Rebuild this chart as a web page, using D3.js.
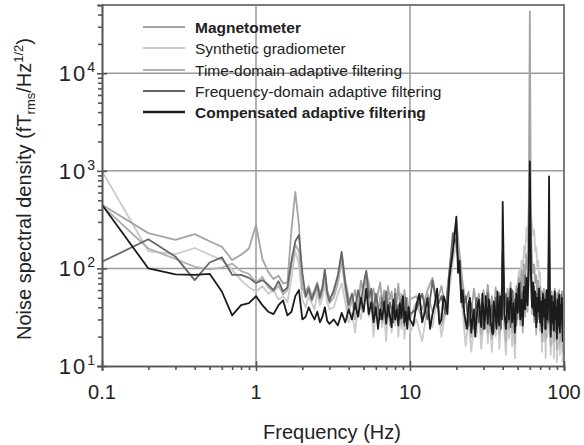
<!DOCTYPE html>
<html>
<head>
<meta charset="utf-8">
<script src="https://cdn.jsdelivr.net/npm/d3@7"></script>
<style>
  body { margin: 0; background: #fff; }
  svg { display: block; font-family: "Liberation Sans", Arial, Helvetica, sans-serif; }
</style>
</head>
<body>
<svg id="chart" width="584" height="445"></svg>
<script>
// frequency grid (Hz): fine steps at low freq, coarser above
const FREQ = [
  0.1, 0.2, 0.3, 0.4, 0.5, 0.6, 0.7, 0.8, 0.9, 1.0, 1.1, 1.2, 1.3, 1.4, 1.5, 1.6, 1.7, 1.8, 1.9, 2.0,
  2.1, 2.2, 2.3, 2.4, 2.5, 2.6, 2.7, 2.8, 2.9, 3.0,
  3.2, 3.4, 3.6, 3.8, 4.0, 4.2, 4.4, 4.6, 4.8, 5.0, 5.2, 5.4, 5.6, 5.8, 6.0, 6.2, 6.4, 6.6, 6.8, 7.0,
  7.2, 7.4, 7.6, 7.8, 8.0, 8.2, 8.4, 8.6, 8.8, 9.0, 9.2, 9.4, 9.6, 9.8, 10.0,
  11, 12, 13, 14, 15, 16, 17, 18, 19, 20, 21, 22, 23, 24, 25, 26, 27, 28, 29, 30,
  31, 32, 33, 34, 35, 36, 37, 38, 39, 40, 41, 42, 43, 44, 45, 46, 47, 48, 49, 50,
  51, 52, 53, 54, 55, 56, 57, 58, 59, 60, 61, 62, 63, 64, 65, 66, 67, 68, 69, 70,
  71, 72, 73, 74, 75, 76, 77, 78, 79, 80, 81, 82, 83, 84, 85, 86, 87, 88, 89, 90,
  91, 92, 93, 94, 95, 96, 97, 98, 99, 100
];
// extra half-Hz bins used for the compensated trace between 10 and 40 Hz
const FREQ_FINE = [
  10.5, 11.5, 12.5, 13.5, 14.5, 15.5, 16.5, 17.5, 18.5, 19.5, 20.5, 21.5, 22.5, 23.5, 24.5,
  25.5, 26.5, 27.5, 28.5, 29.5, 30.5, 31.5, 32.5, 33.5, 34.5, 35.5, 36.5, 37.5, 38.5, 39.5
];

// noise spectral density, fT_rms/Hz^1/2, one value per FREQ entry
const magnetometer = [
  450, 230, 196, 225, 190, 167, 122, 138, 160, 280, 125, 92, 78, 84, 70, 72, 250, 610, 280, 62,
  58, 66, 52, 60, 72, 55, 64, 96, 60, 50,
  55, 80, 140, 75, 50, 45, 60, 40, 75, 55, 90, 70, 48, 62, 40, 56, 72, 44, 60, 38,
  66, 48, 58, 36, 62, 45, 70, 40, 55, 34, 60, 42, 50, 30, 48,
  52, 38, 60, 80, 45, 66, 40, 95, 200, 300, 140, 70, 45, 58, 36, 62, 42, 55, 33, 60,
  44, 68, 38, 52, 30, 64, 40, 56, 34, 150, 48, 36, 62, 40, 72, 35, 58, 30, 66, 45,
  80, 50, 95, 60, 110, 75, 140, 100, 300, 43000, 260, 120, 90, 110, 70, 85, 55, 75, 48, 65,
  42, 58, 36, 62, 40, 55, 30, 60, 45, 200, 50, 34, 58, 38, 52, 28, 62, 40, 48, 30,
  56, 36, 60, 32, 50, 38, 58, 26, 44, 34
];
const synthGradiometer = [
  1000, 150, 140, 162, 138, 122, 97, 76, 64, 58, 66, 55, 60, 48, 52, 45, 80, 150, 110, 48,
  40, 52, 44, 38, 56, 42, 50, 70, 45, 38,
  40, 55, 70, 45, 28, 35, 22, 40, 30, 48, 60, 32, 42, 20, 38, 28, 45, 25, 35, 18,
  40, 30, 22, 36, 26, 44, 20, 32, 24, 38, 19, 30, 26, 34, 22,
  30, 18, 40, 25, 48, 20, 35, 60, 120, 180, 90, 35, 16, 30, 14, 28, 20, 36, 15, 26,
  40, 17, 30, 14, 34, 20, 42, 15, 28, 60, 22, 13, 36, 19, 45, 16, 32, 12, 40, 70,
  95, 60, 120, 85, 170, 130, 260, 190, 420, 610, 380, 280, 220, 250, 150, 165, 105, 120, 80, 90,
  30, 14, 38, 18, 33, 12, 42, 20, 30, 55, 24, 13, 36, 17, 30, 12, 40, 18, 26, 11,
  34, 15, 38, 13, 28, 19, 35, 11, 24, 16
];
const timeDomain = [
  440, 160, 125, 104, 98, 102, 112, 94, 88, 72, 82, 64, 58, 66, 54, 60, 110, 175, 150, 64,
  50, 58, 46, 54, 62, 48, 58, 84, 54, 44,
  50, 70, 120, 60, 35, 48, 30, 52, 38, 58, 80, 42, 55, 30, 46, 34, 52, 28, 44, 32,
  50, 26, 40, 34, 47, 29, 38, 45, 27, 40, 33, 48, 28, 37, 31,
  45, 30, 55, 36, 50, 26, 40, 70, 160, 260, 110, 48, 24, 40, 20, 34, 26, 44, 21, 32,
  46, 22, 36, 19, 40, 25, 50, 21, 33, 90, 28, 18, 44, 24, 54, 22, 38, 17, 48, 30,
  60, 26, 44, 22, 58, 32, 70, 36, 85, 400, 80, 34, 62, 28, 50, 21, 44, 30, 54, 23,
  40, 18, 48, 26, 42, 19, 52, 25, 38, 120, 32, 16, 46, 23, 40, 18, 50, 25, 35, 15,
  42, 21, 47, 17, 36, 24, 44, 14, 31, 22
];
const freqDomain = [
  117, 199, 132, 76, 115, 130, 86, 86, 80, 71, 76, 68, 60, 74, 58, 64, 120, 190, 220, 90,
  52, 62, 48, 58, 68, 50, 64, 97, 56, 46,
  60, 85, 148, 70, 42, 55, 38, 60, 45, 70, 95, 50, 62, 35, 55, 40, 30, 50, 36, 58,
  32, 45, 38, 28, 55, 34, 42, 30, 48, 36, 26, 50, 32, 40, 34,
  38, 55, 30, 75, 40, 52, 34, 90, 230, 180, 95, 40, 52, 26, 44, 24, 50, 28, 42, 24,
  38, 56, 26, 42, 22, 50, 28, 45, 24, 150, 40, 55, 28, 46, 25, 60, 30, 48, 26, 62,
  36, 72, 34, 58, 40, 85, 45, 70, 110, 500, 120, 60, 38, 66, 30, 55, 28, 62, 32, 50,
  26, 45, 30, 52, 24, 48, 34, 56, 28, 300, 30, 48, 24, 52, 27, 44, 32, 56, 22, 46,
  28, 50, 24, 42, 30, 54, 26, 40, 22, 38
];
const compensated = [
  450, 100, 87, 86, 88, 58, 33, 42, 44, 52, 42, 36, 34, 42, 47, 33, 36, 52, 60, 30,
  32, 40, 34, 30, 36, 28, 32, 40, 29, 27,
  30, 26, 35, 28, 38, 30, 44, 32, 50, 36, 62, 34, 45, 28, 40, 24, 38, 30, 46, 27,
  42, 33, 25, 48, 30, 38, 26, 44, 31, 52, 28, 36, 24, 40, 30,
  42, 28, 50, 34, 62, 30, 45, 80, 150, 340, 120, 60, 28, 44, 22, 38, 30, 48, 25, 36,
  52, 27, 40, 23, 46, 31, 58, 26, 38, 480, 34, 24, 50, 30, 62, 28, 44, 22, 55, 35,
  70, 30, 48, 26, 65, 38, 80, 42, 95, 1250, 90, 40, 72, 33, 58, 25, 50, 36, 62, 28,
  46, 22, 55, 32, 48, 24, 60, 30, 44, 880, 38, 20, 52, 28, 45, 23, 58, 30, 40, 19,
  48, 26, 54, 22, 42, 30, 50, 18, 36, 28
];
const compensatedFine = [
  26, 55, 36, 24, 44, 27, 52, 34, 110, 220, 90, 45, 35, 24, 50,
  30, 20, 42, 33, 55, 24, 38, 48, 28, 21, 40, 24, 34, 52, 30
];

const legendLabels = ['Magnetometer', 'Synthetic gradiometer', 'Time-domain adaptive filtering',
  'Frequency-domain adaptive filtering', 'Compensated adaptive filtering'];
const xMajor = [0.1, 1, 10, 100];
const xMajorLabels = ['0.1', '1', '10', '100'];
const yMajor = [10, 100, 1000, 10000];
const yExponents = ['1', '2', '3', '4'];

const svg = d3.select('#chart');
const padL = 102, padR = 564, padT = 5, padB = 366;

const x = d3.scaleLog().domain([0.1, 100]).range([padL, padR]);
const y = d3.scaleLog().domain([10, Math.pow(10, 4.7)]).range([padB, padT]);

// minor tick values (2..9 per decade)
const xMinor = [], yMinor = [];
[0.1, 1, 10].forEach(d => { for (let k = 2; k <= 9; k++) xMinor.push(d * k); });
[10, 100, 1000, 10000].forEach(d => { for (let k = 2; k <= 9; k++) if (d * k < y.domain()[1]) yMinor.push(d * k); });

// grid
const grid = svg.append('g').attr('stroke', '#9a9a9a').attr('stroke-width', 1.5);
grid.selectAll('.vg').data([1, 10]).enter().append('line')
  .attr('x1', d => x(d)).attr('x2', d => x(d)).attr('y1', padT).attr('y2', padB);
grid.selectAll('.hg').data([100, 1000, 10000]).enter().append('line')
  .attr('x1', padL).attr('x2', padR).attr('y1', d => y(d)).attr('y2', d => y(d));

// legend
const legendY = [27, 48, 70, 91, 112];
const colors = ['#a4a4a4', '#cacaca', '#b0b0b0', '#676767', '#1c1c1c'];
const lg = svg.append('g');
legendLabels.forEach((lab, i) => {
  lg.append('line').attr('x1', 143).attr('x2', 185).attr('y1', legendY[i]).attr('y2', legendY[i])
    .attr('stroke', colors[i]).attr('stroke-width', i == 4 ? 2.4 : 2);
  lg.append('text').attr('x', 195).attr('y', legendY[i] + 5.5)
    .attr('font-size', 15.5).attr('fill', '#222')
    .attr('font-weight', (i == 0 || i == 4) ? 'bold' : 'normal')
    .text(lab);
});

// series as [freq, value] pairs, lightest first
const pairs = v => d3.zip(FREQ, v);
const compPts = pairs(compensated).concat(d3.zip(FREQ_FINE, compensatedFine))
  .sort((a, b) => a[0] - b[0]);
const series = [
  { p: pairs(synthGradiometer), c: colors[1] },
  { p: pairs(magnetometer), c: colors[0] },
  { p: pairs(timeDomain), c: colors[2] },
  { p: pairs(freqDomain), c: colors[3] },
  { p: compPts, c: colors[4] }
];
svg.append('clipPath').attr('id', 'clip').append('rect')
  .attr('x', padL).attr('y', padT).attr('width', padR - padL).attr('height', padB - padT);
const line = d3.line().x(d => x(d[0])).y(d => y(d[1]));
svg.append('g').attr('clip-path', 'url(#clip)')
  .selectAll('path').data(series).enter().append('path')
  .attr('d', d => line(d.p))
  .attr('fill', 'none').attr('stroke', d => d.c)
  .attr('stroke-width', 1.8).attr('stroke-linejoin', 'round');

// frame: top and right border
svg.append('path')
  .attr('d', `M${padL},${padT}H${padR}V${padB}`)
  .attr('fill', 'none').attr('stroke', '#7a7a7a').attr('stroke-width', 2);

// axes
const xAxis = svg.append('g').attr('transform', `translate(0,${padB})`)
  .call(d3.axisBottom(x).tickValues(xMinor).tickSize(4).tickFormat(''));
const xAxisMaj = svg.append('g').attr('transform', `translate(0,${padB})`)
  .call(d3.axisBottom(x).tickValues(xMajor).tickSize(5).tickFormat(''));
xAxisMaj.selectAll('.tick line').attr('y1', -5);
const yAxis = svg.append('g').attr('transform', `translate(${padL},0)`)
  .call(d3.axisLeft(y).tickValues(yMinor).tickSize(4).tickFormat(''));
const yAxisMaj = svg.append('g').attr('transform', `translate(${padL},0)`)
  .call(d3.axisLeft(y).tickValues(yMajor).tickSize(5).tickFormat(''));
yAxisMaj.selectAll('.tick line').attr('x1', 5);
[xAxis, xAxisMaj, yAxis, yAxisMaj].forEach(a => {
  a.selectAll('path, line').attr('stroke', '#555').attr('stroke-width', 1.6);
});

// tick labels
svg.append('g').selectAll('text').data(xMajor).enter().append('text')
  .attr('x', d => x(d)).attr('y', 399).attr('text-anchor', 'middle')
  .attr('font-size', 20).attr('fill', '#222')
  .text((d, i) => xMajorLabels[i]);
const yl = svg.append('g').selectAll('text').data(yMajor).enter().append('text')
  .attr('x', 95).attr('y', d => y(d) + 8).attr('text-anchor', 'end')
  .attr('font-size', 22).attr('fill', '#222');
yl.append('tspan').attr('letter-spacing', 2).text('10');
yl.append('tspan').attr('dy', -9).attr('font-size', 14)
  .text((d, i) => yExponents[i]);

// axis titles
svg.append('text').attr('x', 332).attr('y', 439).attr('text-anchor', 'middle')
  .attr('font-size', 20).attr('fill', '#222').text('Frequency (Hz)');
const yt = svg.append('text').attr('transform', 'translate(31,189) rotate(-90)')
  .attr('text-anchor', 'middle').attr('font-size', 20).attr('fill', '#222');
yt.append('tspan').text('Noise spectral density (fT');
yt.append('tspan').attr('font-size', 13).attr('dy', 4).text('rms');
yt.append('tspan').attr('dy', -4).text('/Hz');
yt.append('tspan').attr('font-size', 13).attr('dy', -8).text('1/2');
yt.append('tspan').attr('dy', 8).text(')');
</script>
</body>
</html>
